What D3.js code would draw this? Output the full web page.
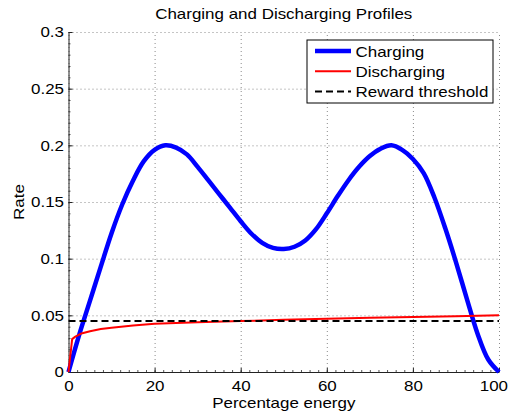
<!DOCTYPE html>
<html>
<head>
<meta charset="utf-8">
<script src="https://cdn.jsdelivr.net/npm/d3@7"></script>
<style>
  body { margin: 0; background: #fff; }
  svg { font-family: "Liberation Sans", Arial, sans-serif; }
</style>
</head>
<body>
<svg id="drawing_region"></svg>
<script>
// values
const charge_x = [0, 2.5, 5, 7.5, 10, 12.5, 15, 17.5, 20, 22.5, 25, 27.5, 30, 32.5, 35, 37.5, 40, 42.5, 45, 47.5,
                  50, 52.5, 55, 57.5, 60, 62.5, 65, 67.5, 70, 72.5, 75, 77.5, 80, 82.5, 85, 87.5, 90, 92.5, 95, 97.5, 100];
const charge_y = [0, 0.033, 0.063, 0.093, 0.1225, 0.148, 0.169, 0.186, 0.196, 0.2, 0.198, 0.192, 0.181, 0.169, 0.157, 0.145, 0.133, 0.122, 0.114, 0.1095,
                  0.1085, 0.1105, 0.116, 0.126, 0.14, 0.155, 0.169, 0.181, 0.1905, 0.197, 0.2, 0.196, 0.188, 0.1755, 0.154, 0.127, 0.097, 0.065, 0.034, 0.011, 0];

const discharge_x = [0, 0.85, 1.5, 3, 5, 7.5, 10, 15, 20, 30, 40, 50, 60, 70, 80, 90, 100];
const discharge_y = [0, 0.029, 0.031, 0.034, 0.036, 0.038, 0.039, 0.041, 0.0425, 0.0438, 0.0449, 0.046, 0.047, 0.0478, 0.0485, 0.0493, 0.050];

const threshold = 0.045;

const x_ticks = [0, 20, 40, 60, 80, 100];
const y_ticks = [0, 0.05, 0.1, 0.15, 0.2, 0.25, 0.3];

const legend_labels = ["Charging", "Discharging", "Reward threshold"];

const config = {
    width: 512,
    height: 420,
    margin: {top: 32, right: 13, bottom: 48, left: 68.5},
    font_size: 15,
    stretch: 1.13   // the reference text is a little wider than Arial metrics
};

const svg = d3.select('#drawing_region')
    .attr('width', config.width)
    .attr('height', config.height);

const inner_width = config.width - config.margin.left - config.margin.right;
const inner_height = config.height - config.margin.top - config.margin.bottom;

const chart = svg.append('g')
    .attr('transform', `translate(${config.margin.left}, ${config.margin.top})`);

const xscale = d3.scaleLinear().domain([0, 100]).range([0, inner_width]);
const yscale = d3.scaleLinear().domain([0, 0.3]).range([inner_height, 0]);

function addText(parent, x, y, str, anchor, rotate) {
    return parent.append('text')
        .attr('transform', `translate(${x}, ${y})${rotate ? ' rotate(' + rotate + ')' : ''} scale(${config.stretch}, 1)`)
        .attr('text-anchor', anchor)
        .attr('font-size', config.font_size + 'px')
        .attr('fill', '#000')
        .text(str);
}

// dotted grid
chart.append('g')
    .attr('transform', `translate(0, ${inner_height})`)
    .call(d3.axisBottom(xscale).tickValues(x_ticks).tickSize(-inner_height).tickFormat(''))
    .call(g => g.select('.domain').remove())
    .selectAll('line')
    .attr('stroke', '#8a8a8a')
    .attr('stroke-dasharray', '1,3');

chart.append('g')
    .call(d3.axisLeft(yscale).tickValues(y_ticks).tickSize(-inner_width).tickFormat(''))
    .call(g => g.select('.domain').remove())
    .selectAll('line')
    .attr('stroke', '#8a8a8a')
    .attr('stroke-dasharray', '1,3');

// minor ticks (inward)
chart.append('g')
    .attr('transform', `translate(0, ${inner_height})`)
    .call(d3.axisBottom(xscale).tickValues(d3.range(0, 101, 2)).tickSize(-2).tickFormat(''))
    .call(g => g.select('.domain').remove())
    .selectAll('line').attr('stroke', '#555');

chart.append('g')
    .call(d3.axisLeft(yscale).tickValues(d3.range(0, 0.3001, 0.01)).tickSize(-2).tickFormat(''))
    .call(g => g.select('.domain').remove())
    .selectAll('line').attr('stroke', '#555');

// main axes
const xaxis_group = chart.append('g')
    .attr('transform', `translate(0, ${inner_height})`)
    .call(d3.axisBottom(xscale).tickValues(x_ticks).tickSizeInner(-4).tickSizeOuter(0).tickPadding(8.5).tickFormat(d3.format('d')));

const yaxis_group = chart.append('g')
    .call(d3.axisLeft(yscale).tickValues(y_ticks).tickSizeInner(-4).tickSizeOuter(0).tickPadding(4).tickFormat(d => d === 0 ? '0' : String(+d.toFixed(2))));

[xaxis_group, yaxis_group].forEach(g => {
    g.select('.domain').attr('stroke', '#222');
    g.selectAll('.tick line').attr('stroke', '#222');
    g.selectAll('.tick text')
        .attr('fill', '#000')
        .attr('font-size', config.font_size + 'px')
        .attr('font-family', '"Liberation Sans", Arial, sans-serif')
        .attr('transform', `scale(${config.stretch}, 1)`);
});

// keep the last x label inside the window
xaxis_group.selectAll('.tick text')
    .filter(d => d === 100)
    .attr('x', -5);

// curves
const line = d3.line()
    .x(d => xscale(d[0]))
    .y(d => yscale(d[1]))
    .curve(d3.curveCatmullRom.alpha(0.5));

chart.append('path')
    .datum(d3.zip(charge_x, charge_y))
    .attr('fill', 'none')
    .attr('stroke', '#0000ff')
    .attr('stroke-width', 4.5)
    .attr('stroke-linejoin', 'round')
    .attr('d', line);

chart.append('path')
    .datum(d3.zip(discharge_x, discharge_y))
    .attr('fill', 'none')
    .attr('stroke', '#ff0000')
    .attr('stroke-width', 2)
    .attr('d', line.curve(d3.curveLinear));

chart.append('line')
    .attr('x1', xscale(0))
    .attr('x2', xscale(100))
    .attr('y1', yscale(threshold))
    .attr('y2', yscale(threshold))
    .attr('stroke', '#000')
    .attr('stroke-width', 2)
    .attr('stroke-dasharray', '7,4');

// title and labels
addText(svg, config.margin.left + inner_width / 2, 19, 'Charging and Discharging Profiles', 'middle');
addText(svg, config.margin.left + inner_width / 2, 408, 'Percentage energy', 'middle');
addText(svg, 23.5, config.margin.top + inner_height / 2, 'Rate', 'middle', -90);

// legend
const legend = svg.append('g').attr('transform', 'translate(307, 40)');
legend.append('rect')
    .attr('width', 186)
    .attr('height', 63)
    .attr('fill', '#fff')
    .attr('stroke', '#000')
    .attr('stroke-width', 1);

const legend_styles = [
    {color: '#0000ff', width: 4.5, dash: null},
    {color: '#ff0000', width: 2, dash: null},
    {color: '#000', width: 2, dash: '7,4'}
];

legend_labels.forEach((label, i) => {
    const y = 11 + i * 20.3;
    legend.append('line')
        .attr('x1', 8).attr('x2', 44)
        .attr('y1', y).attr('y2', y)
        .attr('stroke', legend_styles[i].color)
        .attr('stroke-width', legend_styles[i].width)
        .attr('stroke-dasharray', legend_styles[i].dash);
    addText(legend, 48.5, y + 5.5, label, 'start');
});
</script>
</body>
</html>
